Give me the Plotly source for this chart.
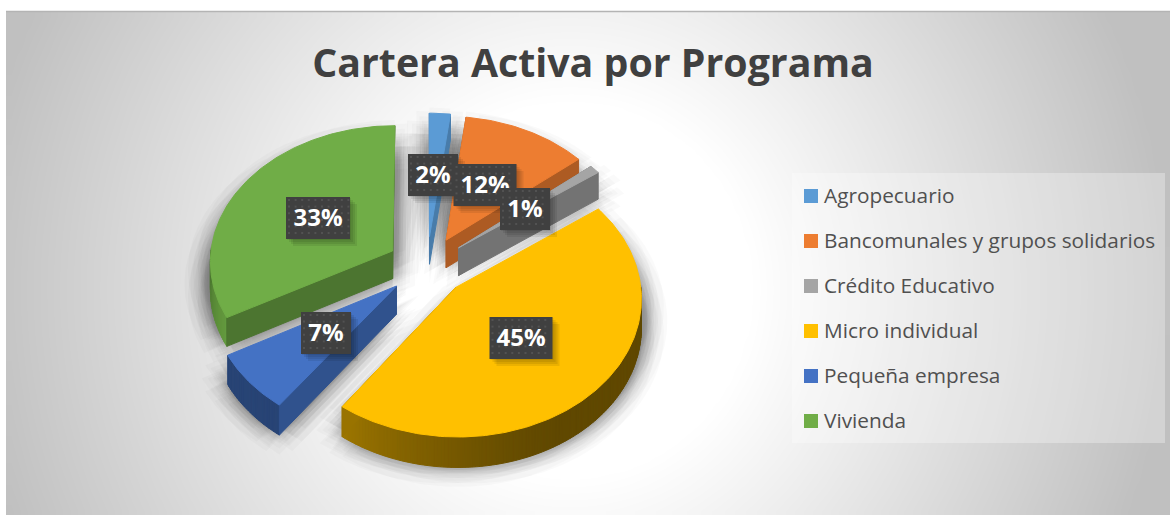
import numpy as np
import plotly.graph_objects as go

categories = ["Agropecuario", "Bancomunales y grupos solidarios", "Crédito Educativo",
              "Micro individual", "Pequeña empresa", "Vivienda"]
values = [2, 12, 1, 45, 7, 33]
colors = ["#5b9bd5", "#ed7d31", "#a5a5a5", "#ffc000", "#4472c4", "#70ad47"]

# label box centres, in the same order as the categories
label_x = [433, 485, 525, 521, 326, 318]
label_y = [175, 185, 209, 338, 333, 218]
label_w = [50, 63, 50, 63, 50, 64]

# projection of the tilted pie
CX, CY = 427, 266
RX, RY = 183, 136
PERSP = 0.07
EXPLODE = 0.22
DEPTH = 28

W, H = 1170, 515


def project(px, py, drop=0.0):
    s = 1 / (1 + PERSP * py)
    return CX + RX * px * s, CY - RY * py * s + drop * s


def slice_geometry(start, end):
    mid = np.radians((start + end) / 2)
    ox, oy = EXPLODE * np.sin(mid), EXPLODE * np.cos(mid)
    n = max(int(end - start), 2)
    th = np.radians(np.linspace(start, end, n + 1))
    return ox, oy, ox + np.sin(th), oy + np.cos(th), th


def darker(hex_color, f):
    r, g, b = [int(hex_color[i:i + 2], 16) for i in (1, 3, 5)]
    return f"rgb({int(r * f)},{int(g * f)},{int(b * f)})"


def poly(xs, ys, fill, line=True):
    return go.Scatter(
        x=list(xs) + [xs[0]], y=list(ys) + [ys[0]], mode="lines", fill="toself",
        fillcolor=fill, line=dict(color=fill, width=1 if line else 0),
        hoverinfo="skip", showlegend=False,
    )


fig = go.Figure()

# background: soft radial gradient panel
step_x, step_y = (W - 6) / 120, (H - 12) / 60
gx = 6 + step_x * (np.arange(120) + 0.5)
gy = 12 + step_y * (np.arange(60) + 0.5)
xx, yy = np.meshgrid(gx, gy)
dist = np.sqrt(((xx - 570) / 600) ** 2 + ((yy - 290) / 620) ** 2)
shade = 255 - 63 * np.clip((dist - 0.3) / 0.7, 0, 1)
fig.add_trace(go.Heatmap(
    x=gx, y=gy, z=shade, zmin=0, zmax=255, zsmooth="best", showscale=False,
    colorscale=[[0, "#000000"], [1, "#ffffff"]], hoverinfo="skip",
))

edges = np.cumsum([0] + values) * 3.6
spans = list(zip(edges[:-1], edges[1:]))

# blurred shadow below each slice, built from shifted copies
for (start, end) in spans:
    ox, oy, ax, ay, _ = slice_geometry(start, end)
    sx, sy = project(np.r_[ox, ax], np.r_[oy, ay], DEPTH - 6)
    for blur in (26, 20, 15, 11, 7):
        for ang in np.radians(np.arange(0, 360, 30)):
            fig.add_trace(poly(sx + blur * np.cos(ang), sy + blur * np.sin(ang),
                               "rgba(0,0,0,0.02)", line=False))

# back to front
side_f = [0.8, 0.73, 0.7, 0.6, 0.72, 0.68]
for idx in [0, 1, 2, 5, 4, 3]:
    start, end = spans[idx]
    color = colors[idx]
    ox, oy, ax, ay, th = slice_geometry(start, end)

    # outer wall, shaded along the arc; only the front half can be seen
    for j in range(len(th) - 1):
        deg = np.degrees(th[j])
        if deg < 89 or deg > 271:
            continue
        x0, y0 = project(ax[j:j + 2], ay[j:j + 2])
        x1, y1 = project(ax[j:j + 2], ay[j:j + 2], DEPTH)
        f = side_f[idx]
        if idx == 3:
            f = 0.38 + 0.24 * np.clip((deg - 150) / 66, 0, 1) ** 1.4
        elif idx == 4:
            f = 0.6
        elif idx == 5:
            f = 0.68 + 0.22 * np.clip((270 - deg) / 29, 0, 1)
        fig.add_trace(poly([x0[0], x0[1], x1[1], x1[0]], [y0[0], y0[1], y1[1], y1[0]], darker(color, f)))

    # the two cut walls
    for k in (0, -1):
        a0 = project(ox, oy)
        a1 = project(ax[k], ay[k])
        b0 = project(ox, oy, DEPTH)
        b1 = project(ax[k], ay[k], DEPTH)
        if (k == 0 and idx == 3) or (k == -1 and idx == 4):
            continue
        fig.add_trace(poly([a0[0], a1[0], b1[0], b0[0]], [a0[1], a1[1], b1[1], b0[1]], darker(color, side_f[idx])))

    # top face
    tx, ty = project(np.r_[ox, ax], np.r_[oy, ay])
    fig.add_trace(poly(tx, ty, color))

# data labels, later ones lie over earlier ones
for val, lx, ly, lw in zip(values, label_x, label_y, label_w):
    lh = 42
    x0, x1, y0, y1 = lx - lw / 2, lx + lw / 2, ly - lh / 2, ly + lh / 2
    for i in range(4):
        d = 1 + 2 * i
        fig.add_trace(poly([x0 + d, x1 + d, x1 + d, x0 + d], [y0 + d, y0 + d, y1 + d, y1 + d],
                           "rgba(0,0,0,0.08)", line=False))
    fig.add_trace(poly([x0, x1, x1, x0], [y0, y0, y1, y1], "#404040", line=False))
    dx, dy = np.meshgrid(np.arange(x0 + 3, x1 - 1, 6.6), np.arange(y0 + 3, y1 - 1, 6.6))
    fig.add_trace(go.Scatter(
        x=dx.ravel(), y=dy.ravel(), mode="markers", hoverinfo="skip", showlegend=False,
        marker=dict(color="#525252", size=2, symbol="square"),
    ))
    fig.add_trace(go.Scatter(
        x=[lx], y=[ly + 2], mode="text", text=[f"{val}%"], hoverinfo="skip", showlegend=False,
        textfont=dict(family="Open Sans", size=24, color="#ffffff", weight="bold"),
    ))

# legend panel and entries
fig.add_trace(poly([792, 1165, 1165, 792], [173, 173, 443, 443], "rgba(255,255,255,0.3)", line=False))
for i, (name, color) in enumerate(zip(categories, colors)):
    ypos = 196 + 45 * i
    fig.add_trace(go.Scatter(
        x=[811], y=[ypos], mode="markers", hoverinfo="skip", showlegend=False,
        marker=dict(color=color, size=14, symbol="square", line_width=0),
    ))
    fig.add_trace(go.Scatter(
        x=[824], y=[ypos + 1.5], mode="text", text=[name], textposition="middle right", hoverinfo="skip",
        showlegend=False, textfont=dict(family="Open Sans", size=20.8, color="#505050"),
    ))

fig.add_shape(type="line", x0=6, x1=W, y0=11.5, y1=11.5, line=dict(color="#b4b4b4", width=1.5))

fig.update_layout(
    width=W,
    height=H,
    margin=dict(l=0, r=0, t=0, b=0),
    paper_bgcolor="#ffffff",
    plot_bgcolor="#ffffff",
    title=dict(text="<b>Cartera Activa por Programa</b>", x=593 / W, y=1 - 63 / H,
               xanchor="center", yanchor="middle",
               font=dict(family="Open Sans", size=39.3, color="#404040")),
    xaxis=dict(range=[0, W], visible=False, fixedrange=True),
    yaxis=dict(range=[H, 0], visible=False, fixedrange=True),
    showlegend=False,
)

fig.write_html("out.html", config={"displayModeBar": False},
               post_script="document.body.style.margin='0';document.body.style.overflow='hidden';")
